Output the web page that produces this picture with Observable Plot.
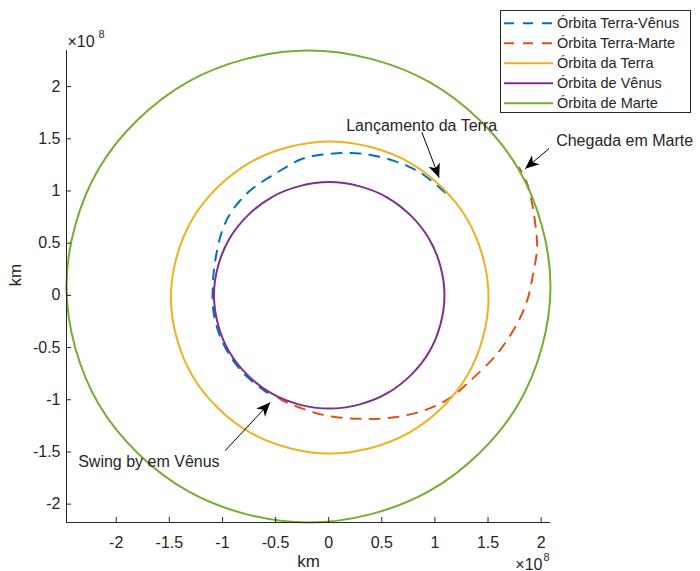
<!DOCTYPE html>
<html><head><meta charset="utf-8">
<script src="https://cdn.jsdelivr.net/npm/d3@7"></script>
<script src="https://cdn.jsdelivr.net/npm/@observablehq/plot@0.6"></script>
<style>
body{margin:0;background:#fff;}
#wrap{position:relative;width:700px;height:571px;overflow:hidden;font-family:"Liberation Sans",Arial,Helvetica,sans-serif;}
#legend{position:absolute;left:500px;top:10px;}
</style></head><body><div id="wrap"></div>
<script>
// values in units of 1e8 km
const xDomain = [-2.468, 2.088];
const yDomain = [-2.176, 2.346];
const xTicks = [-2, -1.5, -1, -0.5, 0, 0.5, 1, 1.5, 2];
const yTicks = [-2, -1.5, -1, -0.5, 0, 0.5, 1, 1.5, 2];

// transfer orbits
const orbitaTerraVenus = [
  [1.096, 0.985], [0.861, 1.177], [0.607, 1.291], [0.296, 1.359], [0.042, 1.359],
  [-0.240, 1.311], [-0.485, 1.177], [-0.739, 1.004], [-0.908, 0.812], [-1.002, 0.620],
  [-1.068, 0.333], [-1.090, 0.112], [-1.088, -0.124], [-1.047, -0.322], [-0.989, -0.470],
  [-0.895, -0.631], [-0.767, -0.781], [-0.600, -0.917], [-0.508, -0.970]
];
const orbitaTerraMarte = [
  [-0.475, -0.981], [-0.428, -1.010], [-0.240, -1.087], [-0.014, -1.154], [0.268, -1.182],
  [0.579, -1.173], [0.889, -1.106], [1.144, -0.981], [1.332, -0.818], [1.586, -0.559],
  [1.774, -0.271], [1.868, -0.051], [1.925, 0.208], [1.962, 0.457], [1.944, 0.687],
  [1.915, 0.879], [1.868, 1.071], [1.793, 1.225]
];
// planet orbits (points read every 30 degrees)
const orbitaTerra = [
  [1.505, -0.02], [1.305, 0.728], [0.758, 1.275], [0.01, 1.475], [-0.738, 1.275], [-1.285, 0.728],
  [-1.485, -0.02], [-1.285, -0.768], [-0.738, -1.315], [0.01, -1.515], [0.758, -1.315], [1.305, -0.768]
];
const orbitaVenus = [
  [1.09, 0], [0.945, 0.543], [0.548, 0.94], [0.005, 1.085], [-0.538, 0.94], [-0.935, 0.543],
  [-1.08, 0], [-0.935, -0.543], [-0.538, -0.94], [0.005, -1.085], [0.548, -0.94], [0.945, -0.543]
];
const orbitaMarte = [
  [2.088, 0.085], [1.783, 1.216], [0.949, 2.043], [-0.19, 2.346], [-1.329, 2.043], [-2.163, 1.216],
  [-2.468, 0.085], [-2.163, -1.046], [-1.329, -1.873], [-0.19, -2.176], [0.949, -1.873], [1.783, -1.046]
];

const legendNames = ["Órbita Terra-Vênus", "Órbita Terra-Marte", "Órbita da Terra", "Órbita de Vênus", "Órbita de Marte"];
const legendColors = ["#0072BD", "#D95319", "#EDB120", "#7E2F8E", "#77AC30"];
const legendDash = ["10,9", "10,9", null, null, null];

const annotText = ["Lançamento da Terra", "Chegada em Marte", "Swing by em Vênus"];
const annotX = [0.165, 2.141, -2.358];
const annotY = [1.627, 1.483, -1.592];
const arrowX1 = [0.877, 2.075, -0.974];
const arrowY1 = [1.563, 1.407, -1.487];
const arrowX2 = [1.04, 1.849, -0.551];
const arrowY2 = [1.128, 1.213, -1.026];

const ink = "#262626";
const font = '"Liberation Sans", Arial, Helvetica, sans-serif';

const headMarker = (color) => {
  const m = d3.create("svg:marker")
    .attr("viewBox", "-15 -7 16 14")
    .attr("markerWidth", 16).attr("markerHeight", 14)
    .attr("markerUnits", "userSpaceOnUse")
    .attr("refX", 0).attr("refY", 0)
    .attr("orient", "auto");
  m.append("path").attr("d", "M0,0L-14,-6L-10,0L-14,6Z").attr("fill", color).attr("stroke", "none");
  return m.node();
};

const px = d => d[0], py = d => d[1];
const lw = 2;

const plot = Plot.plot({
  width: 700, height: 571,
  marginLeft: 66, marginRight: 150, marginTop: 50, marginBottom: 49,
  x: {domain: xDomain}, y: {domain: yDomain},
  style: {fontFamily: font, fontSize: "16px", color: ink, background: "white", overflow: "visible"},
  marks: [
    Plot.line(orbitaTerraVenus, {x: px, y: py, stroke: legendColors[0], strokeWidth: lw, strokeDasharray: legendDash[0], curve: "catmull-rom"}),
    Plot.line(orbitaTerraMarte, {x: px, y: py, stroke: legendColors[1], strokeWidth: lw, strokeDasharray: legendDash[1], curve: "catmull-rom"}),
    Plot.line(orbitaTerra, {x: px, y: py, stroke: legendColors[2], strokeWidth: lw, curve: "catmull-rom-closed"}),
    Plot.line(orbitaVenus, {x: px, y: py, stroke: legendColors[3], strokeWidth: lw, curve: "catmull-rom-closed"}),
    Plot.line(orbitaMarte, {x: px, y: py, stroke: legendColors[4], strokeWidth: lw, curve: "catmull-rom-closed"}),
    Plot.ruleX([xDomain[0]], {stroke: ink, strokeWidth: 1}),
    Plot.ruleY([yDomain[0]], {stroke: ink, strokeWidth: 1}),
    Plot.axisX({ticks: xTicks, tickSize: -5, tickFormat: () => "", stroke: ink, label: null}),
    Plot.axisX({ticks: xTicks, tickSize: 0, tickPadding: 14, tickFormat: d => String(d), fill: ink, fontSize: 16, label: null}),
    Plot.axisY({ticks: yTicks, tickSize: -5, tickFormat: () => "", stroke: ink, label: null}),
    Plot.axisY({ticks: yTicks, tickSize: 0, tickPadding: 6, tickFormat: d => String(d), fill: ink, fontSize: 16, label: null}),
    Plot.text(["km"], {frameAnchor: "bottom", dy: 39, lineAnchor: "middle", fontSize: 17, fill: ink}),
    Plot.text(["km"], {frameAnchor: "left", dx: -51, rotate: -90, lineAnchor: "middle", fontSize: 17, fill: ink}),
    Plot.text(["×10"], {frameAnchor: "top-left", dx: 1, dy: -3.5, textAnchor: "start", lineAnchor: "bottom", fontSize: 16, fill: ink}),
    Plot.text(["8"], {frameAnchor: "top-left", dx: 32, dy: -13, textAnchor: "start", lineAnchor: "bottom", fontSize: 11, fill: ink}),
    Plot.text(["×10"], {frameAnchor: "bottom-right", dx: -8, dy: 47, textAnchor: "end", lineAnchor: "bottom", fontSize: 16, fill: ink}),
    Plot.text(["8"], {frameAnchor: "bottom-right", dx: -7, dy: 38, textAnchor: "start", lineAnchor: "bottom", fontSize: 11, fill: ink}),
    Plot.link(arrowX1, {x1: (d, i) => arrowX1[i], y1: (d, i) => arrowY1[i], x2: (d, i) => arrowX2[i], y2: (d, i) => arrowY2[i], stroke: "#000", strokeWidth: 1, markerEnd: headMarker}),
    Plot.text(annotText, {x: (d, i) => annotX[i], y: (d, i) => annotY[i], text: d => d, textAnchor: "start", lineAnchor: "middle", fontSize: 16, fill: ink})
  ]
});
const wrap = document.getElementById("wrap");
wrap.appendChild(plot);

// legend
const lg = d3.select(wrap).append("svg").attr("id", "legend").attr("width", 192).attr("height", 104);
lg.append("rect").attr("x", 0.5).attr("y", 0.5).attr("width", 190).attr("height", 102)
  .attr("fill", "white").attr("stroke", ink).attr("stroke-width", 1);
legendNames.forEach((name, i) => {
  const y = 13.3 + 20 * i;
  lg.append("line").attr("x1", 4).attr("x2", 53).attr("y1", y).attr("y2", y)
    .attr("stroke", legendColors[i]).attr("stroke-width", 2)
    .attr("stroke-dasharray", legendDash[i]);
  lg.append("text").attr("x", 57).attr("y", y).attr("dy", "0.35em")
    .attr("font-family", font).attr("font-size", 14.5).attr("fill", ink).text(name);
});
</script>
</body></html>
